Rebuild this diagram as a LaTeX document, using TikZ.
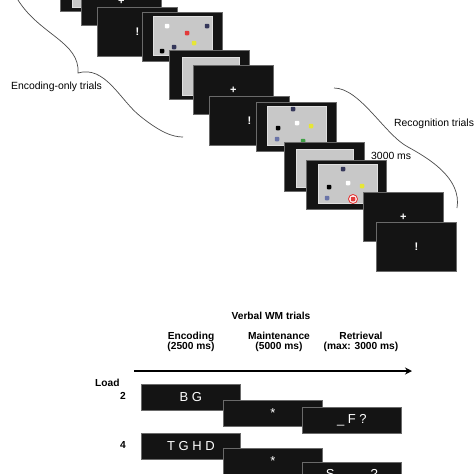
\documentclass[tikz,border=0pt]{standalone}
\usepackage{fontspec}
\setmainfont{Liberation Sans}
\usetikzlibrary{arrows.meta,calc}
\definecolor{scr}{HTML}{141414}
\definecolor{scrb}{HTML}{6A6A6A}
\definecolor{gry}{HTML}{C8C8C8}
\definecolor{gryb}{HTML}{E0E0E0}
\definecolor{dnavy}{HTML}{35375A}
\definecolor{dblue}{HTML}{6A74A8}
\definecolor{dred}{HTML}{E23A3A}
\definecolor{dyel}{HTML}{E6E636}
\definecolor{dgreen}{HTML}{3FA045}
\definecolor{brc}{HTML}{4A4A4A}
\begin{document}
\begin{tikzpicture}[x=1pt,y=-1pt,
  screen/.style={fill=scr,draw=scrb,line width=0.7pt,minimum width=80pt,minimum height=49pt,
    inner sep=0pt,anchor=north west,text=white,font=\bfseries\fontsize{11}{11}\selectfont},
  blank/.style={fill=gry,draw=gryb,line width=0.5pt,minimum width=57pt,minimum height=38pt,inner sep=0pt,anchor=north west},
  disp/.style={fill=gry,draw=gryb,line width=0.5pt,minimum width=59pt,minimum height=39pt,inner sep=0pt,anchor=north west},
  dot/.style={rectangle,rounded corners=0.9pt,minimum size=4.5pt,inner sep=0pt},
  brace/.style={draw=brc,line width=0.7pt},
  lab/.style={font=\fontsize{10.4}{12}\selectfont,text=black,inner sep=0pt},
  hdr/.style={font=\bfseries\fontsize{10.2}{10.6}\selectfont,align=center,inner sep=0pt},
  vbox/.style={fill=scr,draw=scrb,line width=0.7pt,minimum width=99pt,minimum height=26pt,inner sep=0pt,
    anchor=north west,text=white,font=\fontsize{13}{13}\selectfont}]
\useasboundingbox (0,0) rectangle (474,474);
\clip (0,0) rectangle (474,474);
\fill[white] (0,0) rectangle (474,474);

% ---- screen sequence ----
\node[screen] (A) at (60,-38) {};
\node[blank] (Ai) at ([shift={(12,7)}]A.north west) {};
\node[screen] (B) at (81,-24) {+};
\node[screen] (C) at (97,7) {!};
\node[screen] (D) at (142,12) {};
\node[disp] (Di) at ([shift={(11,4)}]D.north west) {};
\node[dot,fill=white] (D1) at (167,26) {};
\node[dot,fill=dnavy] (D2) at (207,26) {};
\node[dot,fill=dred] (D3) at (187,33) {};
\node[dot,fill=dyel] (D4) at (194,43) {};
\node[dot,fill=dnavy] (D5) at (174,47) {};
\node[dot,fill=black] (D6) at (162,51) {};
\node[screen] (E) at (169,50) {};
\node[blank] (Ei) at ([shift={(13,7)}]E.north west) {};
\node[screen] (F) at (193,65) {+};
\node[screen] (G) at (209,96) {!};
\node[screen] (H) at (256,102) {};
\node[disp] (Hi) at ([shift={(11,4)}]H.north west) {};
\node[dot,fill=dnavy] (H1) at (293,109) {};
\node[dot,fill=white] (H2) at (297,123) {};
\node[dot,fill=dyel] (H3) at (311,126) {};
\node[dot,fill=black] (H4) at (278,128) {};
\node[dot,fill=dblue] (H5) at (277,139) {};
\node[dot,fill=dgreen] (H6) at (303,141) {};
\node[screen] (I) at (284,142) {};
\node[blank] (Ii) at ([shift={(12,7)}]I.north west) {};
\node[screen] (J) at (306,160) {};
\node[disp] (Ji) at ([shift={(12,4)}]J.north west) {};
\node[dot,fill=dnavy] (J1) at (343,169) {};
\node[dot,fill=white] (J2) at (348,183) {};
\node[dot,fill=dyel] (J3) at (362,186) {};
\node[dot,fill=black] (J4) at (329,187) {};
\node[dot,fill=dblue] (J5) at (327,198) {};
\node[circle,draw=dred,line width=0.9pt,fill=white,minimum size=9pt,inner sep=0pt] (Jc) at (353,199) {};
\node[dot,fill=dred] (J6) at (353,199) {};
\node[screen] (K) at (363,192) {+};
\node[screen] (L) at (376,222) {!};

% ---- braces ----
\coordinate (lb1) at (18,0);
\coordinate (lbt) at (78,73);
\coordinate (lb2) at (183,137);
\draw[brace] (lb1) .. controls (40,35) and (80,42) .. (lbt)
  .. controls (105,65) and (120,100) .. (140,116)
  .. controls (160,132) and (172,137) .. (lb2);
\coordinate (rb1) at (334,88);
\coordinate (rbt) at (408,147);
\coordinate (rb2) at (457,208);
\draw[brace] (rb1) .. controls (360,88) and (385,135) .. (rbt)
  .. controls (428,158) and (462,178) .. (rb2);

\node[lab,anchor=west] (enc) at (11,87) {Encoding-only trials};
\node[lab,anchor=west] (rec) at (394,124) {Recognition trials};
\node[lab,anchor=west] (t3) at (371,156) {3000 ms};

% ---- verbal WM ----
\node[hdr] (vt) at (271,316) {Verbal WM trials};
\node[hdr] (h1) at (191,342) {Encoding\\(2500 ms)};
\node[hdr] (h2) at (279,342) {Maintenance\\(5000 ms)};
\node[hdr] (h3) at (361,342) {Retrieval\\(max: 3000 ms)};
\coordinate (a1) at (134,371);
\coordinate (a2) at (412,371);
\draw[line width=1.4pt,-{Stealth[length=7pt,width=7pt]}] (a1) -- (a2);
\node[hdr,anchor=west] (ld) at (95,383) {Load};
\node[hdr,anchor=east] (l2) at (126,396) {2};
\node[hdr,anchor=east] (l4) at (126,445) {4};

\node[vbox] (b1) at (141,384) {B G};
\node[vbox] (b2) at (223,400) {*};
\node[vbox] (b3) at (302,407) {\_ F ?};
\node[vbox] (c1) at (141,433) {T G H D};
\node[vbox] (c2) at (223,448) {*};
\node[vbox] (c3) at (302,462) {S \ \_ \ \_ \ ?};
\end{tikzpicture}
\end{document}
